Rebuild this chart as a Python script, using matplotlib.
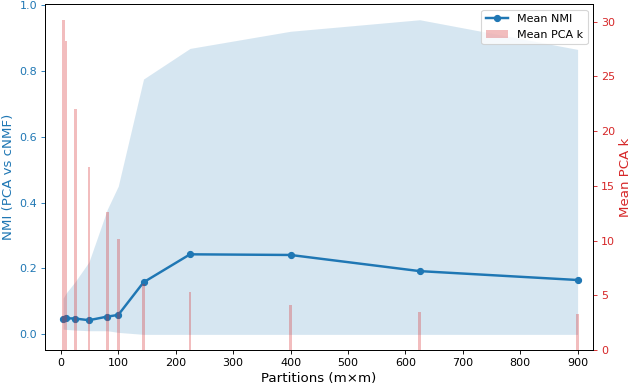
import numpy as np
import matplotlib
matplotlib.use("Agg")
import matplotlib.pyplot as plt

# partitions m x m
partitions = [4, 9, 25, 49, 81, 100, 144, 225, 400, 625, 900]
nmi_mean = [0.046, 0.049, 0.048, 0.043, 0.054, 0.059, 0.158, 0.243, 0.241, 0.192, 0.165]
nmi_low = [0.016, 0.015, 0.013, 0.011, 0.011, 0.006, 0.0, 0.0, 0.0, 0.0, 0.0]
nmi_high = [0.11, 0.125, 0.16, 0.22, 0.38, 0.45, 0.775, 0.868, 0.92, 0.955, 0.865]
pca_k = [30.1, 28.2, 22.0, 16.7, 12.6, 10.1, 6.0, 5.3, 4.1, 3.5, 3.3]

fig, ax1 = plt.subplots(figsize=(635 / 80, 389 / 80), dpi=80)
fig.subplots_adjust(left=0.0705, right=0.934, top=0.9897, bottom=0.10)

ax1.fill_between(partitions, nmi_low, nmi_high, color="tab:blue", alpha=0.18, linewidth=0)
l1, = ax1.plot(partitions, nmi_mean, color="tab:blue", marker="o", linewidth=2.2, markersize=5.5,
               label="Mean NMI")
ax1.set_xlabel("Partitions (m\u00d7m)", fontsize=12)
ax1.set_ylabel("NMI (PCA vs cNMF)", color="tab:blue", fontsize=12)
ax1.tick_params(axis="y", colors="tab:blue")
ax1.set_xlim(-28, 927)
ax1.set_xticks(np.arange(0, 901, 100))

ax2 = ax1.twinx()
b2 = ax2.bar(partitions, pca_k, width=5, color="tab:red", alpha=0.3, label="Mean PCA k")
ax2.set_ylabel("Mean PCA k", color="tab:red", fontsize=12)
ax2.tick_params(axis="y", colors="tab:red")

ax2.legend([l1, b2], ["Mean NMI", "Mean PCA k"], loc="upper right")

fig.savefig("out.png", dpi=80)
